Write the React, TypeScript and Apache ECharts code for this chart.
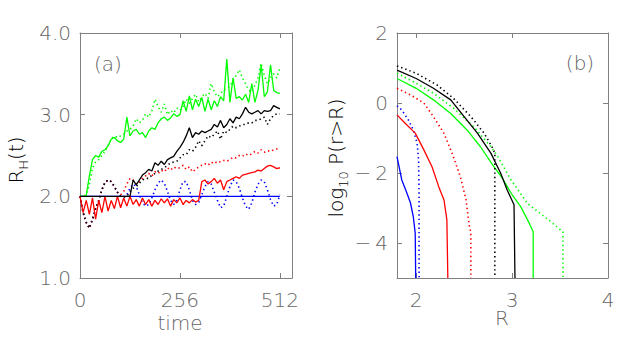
import React, { useEffect, useRef } from "react";
import * as echarts from "echarts";

// ---------- Panel (a): R_H(t) vs time ----------
const timeA = [0, 8, 16, 24, 32, 40, 48, 56, 64, 72, 80, 88, 96, 104, 112, 120, 128, 136, 144, 152, 160, 168, 176, 184, 192, 200, 208, 216, 224, 232, 240, 248, 256, 264, 272, 280, 288, 296, 304, 312, 320, 328, 336, 344, 352, 360, 368, 376, 384, 392, 400, 408, 416, 424, 432, 440, 448, 456, 464, 472, 480, 488, 496, 504, 512];

const greenSolidA = [2.00, 2.00, 2.01, 2.25, 2.45, 2.50, 2.48, 2.55, 2.57, 2.62,
  2.70, 2.72, 2.68, 2.66, 2.70, 2.97, 2.74, 2.80, 2.82, 2.76,
  2.78, 2.72, 2.80, 2.84, 2.82, 2.90, 2.95, 2.97, 2.93, 2.96,
  3.01, 2.98, 3.00, 3.17, 3.04, 3.23, 3.06, 3.19, 3.10, 3.21,
  3.04, 3.19, 3.06, 3.17, 3.10, 3.22, 3.17, 3.68, 3.15, 3.45,
  3.20, 3.22, 3.18, 3.25, 3.15, 3.38, 3.15, 3.30, 3.61, 3.22,
  3.28, 3.61, 3.30, 3.27, 3.26];

const greenDotA = [2.00, 2.00, 2.02, 2.15, 2.35, 2.42, 2.45, 2.50, 2.55, 2.62,
  2.70, 2.74, 2.72, 2.74, 2.76, 2.80, 2.82, 2.86, 2.95, 2.90,
  2.93, 3.01, 2.97, 3.05, 3.19, 3.10, 3.03, 3.13, 3.00, 3.05,
  3.02, 3.08, 3.05, 3.10, 3.19, 3.14, 3.20, 3.25, 3.16, 3.22,
  3.26, 3.20, 3.38, 3.28, 3.22, 3.26, 3.30, 3.32, 3.35, 3.42,
  3.48, 3.55, 3.45, 3.38, 3.30, 3.28, 3.36, 3.45, 3.63, 3.48,
  3.38, 3.45, 3.50, 3.45, 3.57];

const blackSolidA = [2.00, 2.00, 2.00, 2.00, 2.00, 2.00, 2.00, 2.00, 2.00, 2.00,
  2.00, 2.00, 2.00, 2.00, 2.00, 2.00, 2.00, 2.20, 2.14, 2.20,
  2.26, 2.29, 2.33, 2.31, 2.41, 2.38, 2.43, 2.39, 2.45, 2.47,
  2.49, 2.55, 2.60, 2.66, 2.74, 2.84, 2.72, 2.78, 2.76, 2.80,
  2.78, 2.80, 2.82, 2.88, 2.85, 2.93, 2.84, 2.88, 2.95, 2.90,
  2.97, 2.95, 3.01, 3.09, 3.03, 3.01, 3.03, 3.05, 3.01, 3.05,
  3.04, 3.05, 3.11, 3.09, 3.07];

const blackDotA = [2.00, 1.80, 1.68, 1.61, 1.72, 1.85, 1.95, 2.08, 2.17, 2.20,
  2.18, 2.12, 2.05, 2.00, 1.99, 2.00, 2.06, 2.10, 2.12, 2.16,
  2.20, 2.22, 2.22, 2.26, 2.28, 2.31, 2.33, 2.35, 2.38, 2.41,
  2.42, 2.43, 2.47, 2.51, 2.51, 2.57, 2.55, 2.60, 2.68, 2.62,
  2.68, 2.74, 2.72, 2.76, 2.80, 2.70, 2.80, 2.78, 2.82, 2.86,
  2.84, 2.86, 2.88, 2.88, 2.90, 2.90, 2.93, 2.93, 2.95, 2.97,
  2.88, 2.95, 2.99, 3.01, 3.01];

const redSolidA = [2.00, 1.80, 1.95, 1.78, 1.98, 1.72, 1.95, 1.80, 2.00, 1.82,
  1.95, 1.85, 2.00, 1.86, 1.98, 1.88, 2.00, 1.90, 1.96, 1.88,
  1.98, 1.90, 1.96, 1.88, 1.95, 1.90, 1.97, 1.92, 1.97, 1.88,
  1.96, 1.92, 1.98, 1.90, 1.95, 1.92, 1.96, 1.93, 1.95, 2.18,
  2.20, 2.15, 2.18, 2.22, 2.16, 2.20, 2.08, 2.18, 2.20, 2.22,
  2.24, 2.22, 2.26, 2.27, 2.28, 2.29, 2.30, 2.32, 2.31, 2.34,
  2.37, 2.38, 2.36, 2.34, 2.35];

const redDotA = [2.00, 1.80, 1.68, 1.61, 1.72, 1.85, 1.95, 2.08, 2.17, 2.20,
  2.18, 2.12, 2.05, 2.02, 2.06, 2.15, 2.22, 2.20, 2.15, 2.18,
  2.22, 2.25, 2.28, 2.25, 2.30, 2.28, 2.32, 2.30, 2.35, 2.32,
  2.36, 2.34, 2.35, 2.38, 2.33, 2.36, 2.30, 2.33, 2.36, 2.38,
  2.40, 2.38, 2.42, 2.40, 2.43, 2.42, 2.44, 2.43, 2.45, 2.48,
  2.47, 2.50, 2.49, 2.52, 2.50, 2.52, 2.55, 2.53, 2.57, 2.54,
  2.56, 2.55, 2.57, 2.58, 2.59];

const blueDotA = [2.00, 1.80, 1.68, 1.61, 1.72, 1.85, 1.95, 2.08, 2.17, 2.20,
  2.18, 2.12, 2.05, 2.00, 1.99, 2.02, 2.10, 2.15, 2.12, 2.02,
  1.92, 1.88, 1.90, 1.98, 2.08, 2.16, 2.20, 2.16, 2.06, 1.95,
  1.90, 1.95, 2.08, 2.18, 2.18, 2.08, 1.95, 1.90, 1.92, 2.02,
  2.12, 2.18, 2.15, 2.05, 1.95, 1.86, 1.88, 2.00, 2.12, 2.20,
  2.18, 2.10, 1.98, 1.88, 1.84, 1.92, 2.05, 2.15, 2.20, 2.18,
  2.08, 1.96, 1.88, 1.90, 2.02];

const blueSolidTime = [0, 512];
const blueSolidA = [2.0, 2.0];

const xTicksA = [0, 256, 512];
const yTicksA = [1, 2, 3, 4];

// ---------- Panel (b): log10 P(r>R) vs R ----------
const blueSolidR = [1.80, 1.85, 1.90, 1.94, 1.97, 1.99, 1.995];
const blueSolidP = [-1.53, -2.20, -2.55, -2.85, -3.25, -3.72, -5.0];
const blueDotR = [1.80, 1.85, 1.92, 1.97, 2.01, 2.025, 2.03, 2.03];
const blueDotP = [-0.08, -0.20, -0.49, -0.77, -1.15, -1.63, -2.60, -5.0];
const redSolidR = [1.80, 1.885, 1.99, 2.08, 2.165, 2.235, 2.29, 2.32, 2.33];
const redSolidP = [-0.34, -0.58, -0.86, -1.34, -1.82, -2.39, -2.77, -3.34, -5.0];
const redDotR = [1.80, 1.94, 2.08, 2.18, 2.29, 2.375, 2.46, 2.52, 2.55, 2.57, 2.57];
const redDotP = [0.42, 0.23, 0.0, -0.39, -0.87, -1.44, -2.10, -2.77, -3.44, -3.72, -5.0];
const blackSolidR = [1.80, 2.00, 2.18, 2.36, 2.50, 2.64, 2.78, 2.88, 2.95, 3.02, 3.03];
const blackSolidP = [0.94, 0.70, 0.42, 0.09, -0.39, -0.87, -1.44, -2.00, -2.49, -2.91, -5.0];
const blackDotR = [1.80, 2.00, 2.22, 2.39, 2.57, 2.71, 2.80, 2.82, 2.82];
const blackDotP = [1.06, 0.85, 0.51, 0.13, -0.39, -0.87, -1.30, -1.44, -5.0];
const greenSolidR = [1.80, 2.00, 2.18, 2.36, 2.53, 2.67, 2.81, 2.90, 2.99, 3.09, 3.18, 3.22, 3.22];
const greenSolidP = [0.70, 0.42, 0.09, -0.30, -0.77, -1.25, -1.82, -2.15, -2.58, -2.96, -3.44, -3.68, -5.0];
const greenDotR = [1.80, 1.97, 2.18, 2.39, 2.60, 2.78, 2.85, 2.99, 3.16, 3.38, 3.53, 3.53];
const greenDotP = [0.85, 0.61, 0.28, -0.15, -0.68, -1.25, -1.53, -2.20, -2.87, -3.34, -3.68, -5.0];

const xTicksB = [2, 3, 4];
const yTicksB = [-4, -2, 0, 2];

const GREEN = "#00ff00";
const RED = "#ff0000";
const BLUE = "#0000ff";
const BLACK = "#000000";
const AXIS = "#808080";
const TEXT = "#666666";
const FONT = "'DejaVu Sans ExtraLight', 'DejaVu Sans'";
const WEIGHT = 200;

const zip = (xs: number[], ys: number[]) => xs.map((x, i) => [x, ys[i]]);

export default function App() {
  const ref = useRef<HTMLDivElement>(null);

  useEffect(() => {
    if (!ref.current) return;
    const chart = echarts.init(ref.current, undefined, { renderer: "svg" });

    const line = (
      name: string,
      data: number[][],
      color: string,
      dotted: boolean,
      xi: number,
      yi: number
    ) => ({
      name,
      type: "line",
      xAxisIndex: xi,
      yAxisIndex: yi,
      data,
      showSymbol: false,
      symbol: "none",
      silent: true,
      lineStyle: dotted
        ? { color, width: 1.6, type: [1.4, 3] }
        : { color, width: 1.3, type: "solid" },
      itemStyle: { color },
    });

    const baseAxisLine = { show: true, lineStyle: { color: AXIS, width: 1 } };
    const label = {
      color: TEXT,
      fontSize: 20,
      fontFamily: FONT,
      fontWeight: WEIGHT,
    };

    const mkX = (grid: number, min: number, max: number, ticks: number[], pos: string, showLabel: boolean, fmt?: (v: number) => string) => ({
      type: "value",
      gridIndex: grid,
      min,
      max,
      position: pos,
      axisLine: { ...baseAxisLine, onZero: false },
      axisTick: { show: true, inside: true, length: 5, customValues: ticks, lineStyle: { color: AXIS } },
      axisLabel: showLabel
        ? { ...label, margin: 12, customValues: ticks, formatter: fmt || ((v: number) => String(v)) }
        : { show: false },
      splitLine: { show: false },
    });

    const mkY = (grid: number, min: number, max: number, ticks: number[], pos: string, showLabel: boolean, fmt?: (v: number) => string) => ({
      type: "value",
      gridIndex: grid,
      min,
      max,
      position: pos,
      axisLine: { ...baseAxisLine, onZero: false },
      axisTick: { show: true, inside: true, length: 5, customValues: ticks, lineStyle: { color: AXIS } },
      axisLabel: showLabel
        ? { ...label, margin: 9, customValues: ticks, formatter: fmt || ((v: number) => String(v)) }
        : { show: false },
      splitLine: { show: false },
    });

    const minusFmt = (v: number) => (v < 0 ? "\u2212\u2009" + Math.abs(v) : String(v));

    const rich = {
      a: { fontSize: 20, fontFamily: FONT, fontWeight: WEIGHT, color: TEXT, lineHeight: 28, verticalAlign: "middle" },
      s: { fontSize: 13, fontFamily: FONT, fontWeight: WEIGHT, color: TEXT, lineHeight: 14, verticalAlign: "bottom" },
    };
    const txt = (text: string, x: number, y: number) => ({
      type: "text", x, y,
      style: { text, fontSize: 20, fontFamily: FONT, fontWeight: WEIGHT, fill: TEXT, align: "center", verticalAlign: "middle" },
    });

    chart.setOption({
      animation: false,
      backgroundColor: "#ffffff",
      grid: [
        { left: 80, top: 33, width: 212, height: 245 },
        { left: 397, top: 33, width: 211, height: 245 },
      ],
      xAxis: [
        mkX(0, 0, 543, xTicksA, "bottom", true),
        mkX(0, 0, 543, xTicksA, "top", false),
        mkX(1, 1.8, 4, xTicksB, "bottom", true),
        mkX(1, 1.8, 4, xTicksB, "top", false),
      ],
      yAxis: [
        mkY(0, 1, 4, yTicksA, "left", true, (v: number) => v.toFixed(1)),
        mkY(0, 1, 4, yTicksA, "right", false),
        mkY(1, -5, 2, yTicksB, "left", true, minusFmt),
        mkY(1, -5, 2, yTicksB, "right", false),
      ],
      series: [
        line("blue solid a", zip(blueSolidTime, blueSolidA), BLUE, false, 0, 0),
        line("blue dotted a", zip(timeA, blueDotA), BLUE, true, 0, 0),
        line("red dotted a", zip(timeA, redDotA), RED, true, 0, 0),
        line("black dotted a", zip(timeA, blackDotA), BLACK, true, 0, 0),
        line("green dotted a", zip(timeA, greenDotA), GREEN, true, 0, 0),
        line("green solid a", zip(timeA, greenSolidA), GREEN, false, 0, 0),
        line("red solid a", zip(timeA, redSolidA), RED, false, 0, 0),
        line("black solid a", zip(timeA, blackSolidA), BLACK, false, 0, 0),

        line("blue solid b", zip(blueSolidR, blueSolidP), BLUE, false, 2, 2),
        line("blue dotted b", zip(blueDotR, blueDotP), BLUE, true, 2, 2),
        line("red solid b", zip(redSolidR, redSolidP), RED, false, 2, 2),
        line("red dotted b", zip(redDotR, redDotP), RED, true, 2, 2),
        line("green dotted b", zip(greenDotR, greenDotP), GREEN, true, 2, 2),
        line("green solid b", zip(greenSolidR, greenSolidP), GREEN, false, 2, 2),
        line("black dotted b", zip(blackDotR, blackDotP), BLACK, true, 2, 2),
        line("black solid b", zip(blackSolidR, blackSolidP), BLACK, false, 2, 2),
      ],
      graphic: [
        txt("(a)", 108, 64),
        txt("(b)", 580, 63),
        txt("time", 180, 323),
        txt("R", 502, 318),
        {
          type: "text", x: 16, y: 160, rotation: Math.PI / 2,
          style: { text: "{a|R}{s|H}{a|(t)}", rich, align: "center", verticalAlign: "middle" },
        },
        {
          type: "text", x: 336, y: 158, rotation: Math.PI / 2,
          style: { text: "{a|log}{s|10}{a| P(r>R)}", rich, align: "center", verticalAlign: "middle" },
        },
      ],
    });

    return () => chart.dispose();
  }, []);

  return (
    <div
      ref={ref}
      style={{ position: "fixed", left: 0, top: 0, width: 620, height: 349, background: "#fff" }}
    />
  );
}
